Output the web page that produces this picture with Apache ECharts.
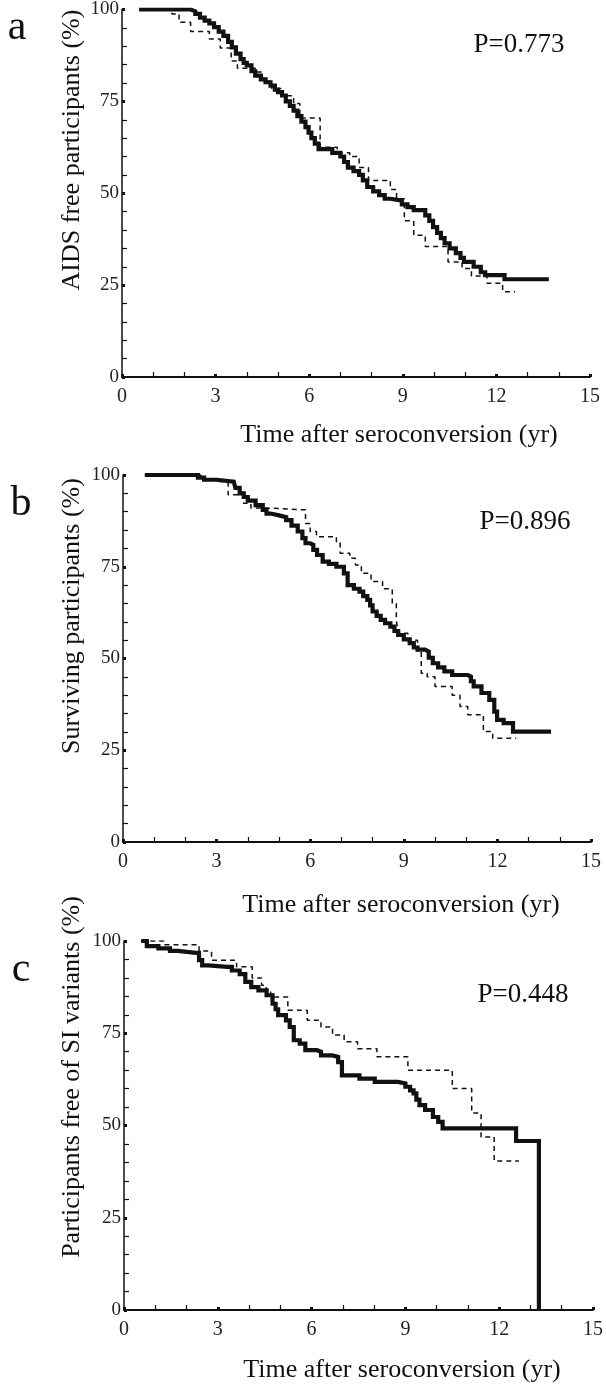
<!DOCTYPE html>
<html>
<head>
<meta charset="utf-8">
<script src="https://cdn.jsdelivr.net/npm/echarts@6/dist/echarts.min.js"></script>
<style>
html,body{margin:0;padding:0;background:#fff;}
#c{width:606px;height:1387px;}
</style>
</head>
<body>
<div id="c"></div>
<script>
// ---- data (time in years, % free) ----
const xTicks = [0, 3, 6, 9, 12, 15];
const yTicks = [0, 25, 50, 75, 100];

const panelLetters = ['a', 'b', 'c'];
const pValues = ['P=0.773', 'P=0.896', 'P=0.448'];
const yTitles = ['AIDS free participants (%)', 'Surviving participants (%)', 'Participants free of SI variants (%)'];
const xTitle = 'Time after seroconversion (yr)';

const aSolid = [[0.55,100],[2.1,100],[2.2,99.5],[2.35,98.8],[2.5,97.8],[2.65,97],[2.8,96.2],[2.95,95.2],[3.1,94],[3.25,92.8],[3.4,91.2],[3.52,89.7],[3.65,88],[3.8,86.5],[3.9,85.5],[4.0,84.8],[4.15,83.2],[4.27,82],[4.45,81],[4.6,80.2],[4.76,79.3],[4.9,78.2],[5.0,77.5],[5.13,76.6],[5.25,75],[5.38,73.8],[5.5,72.5],[5.62,71],[5.75,69.5],[5.88,68],[5.98,66.5],[6.07,65],[6.18,63.5],[6.3,62],[6.74,61],[7.0,60],[7.12,58.5],[7.24,57],[7.42,56],[7.6,55],[7.72,53.5],[7.86,51.7],[8.05,50.5],[8.24,49.5],[8.42,48.5],[8.6,48],[8.97,47],[9.15,46.2],[9.35,45.4],[9.72,44],[9.85,42.5],[9.97,40.8],[10.1,39.2],[10.22,37.8],[10.34,36.4],[10.5,35],[10.7,33.7],[10.85,32.4],[10.96,31.3],[11.27,30],[11.5,28.5],[11.64,27.7],[12.26,26.6],[13.68,26.6]];
const aDashed = [[0.55,100],[1.6,98.8],[1.83,96.5],[2.2,94],[2.8,92],[3.15,89.5],[3.5,86],[3.7,84],[4.27,83],[4.5,80.5],[4.8,78.5],[5.1,76.5],[5.5,74.4],[5.7,70.5],[6.35,62.5],[6.9,61],[7.3,60],[7.6,57],[7.9,53.5],[8.6,51],[8.8,48.5],[9.05,42.5],[9.35,38.6],[9.72,35.5],[10.45,31.3],[10.9,29.5],[11.2,27.5],[11.7,25.5],[12.2,23.2],[12.6,23.2]];

const bSolid = [[0.7,100],[2.25,100],[2.4,99.3],[2.6,98.7],[3.0,98.2],[3.55,98.2],[3.6,96.5],[3.74,95],[3.87,94],[4.0,93],[4.25,91.8],[4.48,90.5],[4.6,89.5],[4.73,89],[5.0,88.5],[5.23,87.7],[5.4,86.2],[5.6,84.6],[5.75,82.8],[5.85,81.4],[6.0,81],[6.1,79.6],[6.22,78.2],[6.4,76.4],[6.6,75.8],[6.84,75],[7.08,73.2],[7.2,70],[7.4,69],[7.58,68.2],[7.7,67],[7.83,66],[7.92,64.5],[8.0,62.8],[8.13,61.6],[8.26,60.5],[8.4,59.6],[8.57,58.7],[8.7,57.5],[8.82,56.4],[9.0,55.2],[9.19,54.2],[9.32,53],[9.44,52.4],[9.68,51.9],[9.8,50.2],[9.93,48.7],[10.1,47.6],[10.3,46.5],[10.55,45.5],[11.05,45.1],[11.15,43.8],[11.24,42.4],[11.49,40.6],[11.74,38.7],[11.9,35.5],[11.99,33.3],[12.2,32.4],[12.5,30.1],[13.72,30.1]];
const bDashed = [[0.7,100],[2.25,100],[2.5,99],[3.0,98.2],[3.37,94.6],[3.86,92.3],[4.1,91],[4.6,90.5],[5.85,86.8],[6.0,84.6],[6.2,83.2],[6.84,81.8],[6.96,78.7],[7.27,77.3],[7.45,75.5],[7.64,73.2],[7.95,71],[8.32,69],[8.63,65],[8.76,60.5],[8.82,56.9],[9.13,55],[9.44,51.9],[9.56,46],[9.75,45],[10.0,42.4],[10.55,40],[10.8,36.9],[11.05,34.7],[11.55,30.1],[11.85,28.3],[12.6,28.3]];

const cSolid = [[0.55,100],[0.73,98.6],[1.1,98],[1.47,97.3],[1.72,96.8],[2.3,96.8],[2.4,94.8],[2.5,93.4],[2.7,93],[3.3,93],[3.45,92],[3.7,91],[3.88,88.9],[4.07,87.5],[4.3,86.6],[4.56,85.3],[4.75,83],[4.85,81.5],[4.93,79.9],[5.18,78.5],[5.3,76.7],[5.43,73.1],[5.62,72.2],[5.8,70.4],[6.17,70],[6.3,69],[6.66,68.6],[6.85,67.2],[6.97,63.6],[7.53,62.7],[8.02,61.8],[8.76,61.4],[9.0,60.5],[9.15,59.5],[9.26,58.7],[9.35,57],[9.45,55.5],[9.63,54.2],[9.88,52.3],[10.05,51],[10.19,49.2],[12.54,45.8],[13.27,0]];
const cDashed = [[0.55,100],[1.3,99],[2.4,97.3],[2.8,94.8],[3.6,93],[4.1,90],[4.4,88],[4.55,86.8],[4.69,84.8],[5.24,81.2],[5.86,78.5],[6.3,76.7],[6.67,74.5],[7.04,72.7],[7.47,70.8],[8.09,68.6],[9.08,65],[10.5,60],[11.12,53.4],[11.42,46.9],[11.84,40.4],[12.63,40.4]];

const solids = [aSolid, bSolid, cSolid];
const dasheds = [aDashed, bDashed, cDashed];

// ---- layout ----
const FONT = '"Liberation Serif", "Times New Roman", serif';
const INK = '#111';
const grids = [
  {left:122, top:9,   width:468, height:368},
  {left:123, top:475, width:468, height:367},
  {left:124, top:941, width:469, height:369}
];
const letterPos = [[17,28],[21,504],[21,970]];
const pPos = [[519,45],[525,522],[523,995]];
const yTitlePos = [[72,150],[72,616],[72,1077]];
const xTitlePos = [[399,435],[401,905],[402,1370]];

const xAxes = grids.map((g,i)=>({
  type:'value', gridIndex:i, min:xTicks[0], max:xTicks[xTicks.length-1], interval:3,
  axisLine:{show:true, onZero:false, lineStyle:{color:INK, width:2}},
  axisTick:{show:true, inside:true, length:3, lineStyle:{color:INK, width:3}},
  minorTick:{show:true, splitNumber:3, length:5, lineStyle:{color:INK, width:1.2}},
  splitLine:{show:false},
  axisLabel:{fontFamily:FONT, fontSize:20, color:'#222', margin:10}
}));
const yAxes = grids.map((g,i)=>({
  type:'value', gridIndex:i, min:yTicks[0], max:yTicks[yTicks.length-1], interval:25,
  axisLine:{show:true, onZero:false, lineStyle:{color:INK, width:1.5}},
  axisTick:{show:true, inside:true, length:3, lineStyle:{color:INK, width:3}},
  minorTick:{show:true, splitNumber:5, length:5, lineStyle:{color:INK, width:1.2}},
  splitLine:{show:false},
  axisLabel:{fontFamily:FONT, fontSize:19, color:'#222', margin:3, padding:[10,0,0,0]}
}));

const series = [];
for (let i=0;i<3;i++){
  series.push({
    type:'line', xAxisIndex:i, yAxisIndex:i, step:'end', data:dasheds[i],
    showSymbol:false, symbol:'none', silent:true, z:2,
    lineStyle:{color:INK, width:1.5, type:[5,4]}
  });
  series.push({
    type:'line', xAxisIndex:i, yAxisIndex:i, step:'end', data:solids[i],
    showSymbol:false, symbol:'none', silent:true, z:3,
    lineStyle:{color:INK, width:4.2, join:'miter', cap:'butt'}
  });
}

const graphics = [];
for (let i=0;i<3;i++){
  graphics.push({type:'text', x:letterPos[i][0], y:letterPos[i][1],
    style:{text:panelLetters[i], fontFamily:FONT, fontSize:42, fill:INK, align:'center', verticalAlign:'middle'}});
  graphics.push({type:'text', x:pPos[i][0], y:pPos[i][1],
    style:{text:pValues[i], fontFamily:FONT, fontSize:27, fill:INK, align:'center', verticalAlign:'middle'}});
  graphics.push({type:'text', x:yTitlePos[i][0], y:yTitlePos[i][1], rotation:Math.PI/2,
    style:{text:yTitles[i], fontFamily:FONT, fontSize:26, fill:INK, align:'center', verticalAlign:'middle'}});
  graphics.push({type:'text', x:xTitlePos[i][0], y:xTitlePos[i][1],
    style:{text:xTitle, fontFamily:FONT, fontSize:26, fill:INK, align:'center', verticalAlign:'middle'}});
}

const chart = echarts.init(document.getElementById('c'), null, {renderer:'canvas'});
chart.setOption({
  backgroundColor:'#fff',
  animation:false,
  grid:grids,
  xAxis:xAxes,
  yAxis:yAxes,
  series:series,
  graphic:graphics
});
</script>
</body>
</html>
